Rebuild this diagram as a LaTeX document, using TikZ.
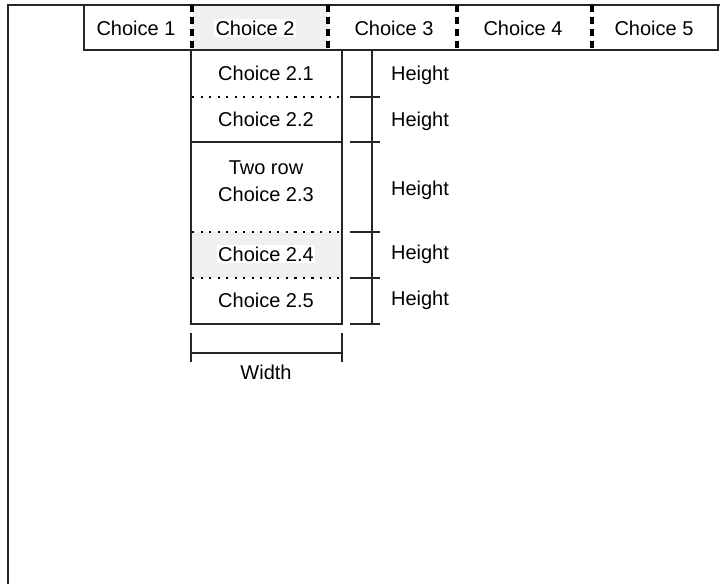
\documentclass[tikz,border=0pt]{standalone}
\usepackage{fontspec}
\setmainfont{Liberation Sans}
\usetikzlibrary{positioning}
\begin{document}
\begin{tikzpicture}[x=0.75pt,y=-0.75pt,font=\fontsize{15}{20}\selectfont,
  line/.style={draw=black!85,line width=0.8pt},
  sep/.style={line width=2.6pt,dash pattern=on 5.25pt off 3.75pt},
  dots/.style={line width=2pt,dash pattern=on 1.6pt off 4.8pt},
  hilite/.style={fill=black!6},
  lbl/.style={inner sep=1pt}]
\useasboundingbox (0,0) rectangle (720,584);
% window frame
\draw[line,line width=1pt] (8,600) -- (8,5) -- (730,5);
% menu bar
\fill[hilite] (192,5) rectangle (328,50);
\draw[line] (84,5) rectangle (718,50);
\foreach \x in {192,328,457,592}
  \draw[sep] (\x,5) -- (\x,50);
\foreach \x/\n in {136/1,394/3,523/4,654/5}
  \node[lbl] (m\n) at (\x,28) {Choice \n};
\node[lbl,fill=white] (m2) at (255,28) {Choice 2};
% submenu of Choice 2
\fill[hilite] (191,232) rectangle (342,278);
\draw[line] (191,50) rectangle (342,324);
\draw[line] (191,142) -- (342,142);
\foreach \y in {97,232,278}
  \draw[dots] (192,\y) -- (342,\y);
\node[lbl] (s1) at (266,73) {Choice 2.1};
\node[lbl] (s2) at (266,119.5) {Choice 2.2};
\node[lbl,align=center] (s3) at (266,181) {Two row\\Choice 2.3};
\node[lbl,fill=white] (s4) at (266,254) {Choice 2.4};
\node[lbl] (s5) at (266,300) {Choice 2.5};
% height
\coordinate (htop) at (372,50);
\coordinate (hbot) at (372,324);
\draw[line] (htop) -- (hbot);
\foreach \y in {97,142,232,278,324}
  \draw[line] (350,\y) -- (380,\y);
\foreach \y [count=\i] in {75.5,121,190,254,300}
  \node[lbl] (h\i) at (420,\y) {Height};
% width
\coordinate (wl) at (191,353);
\coordinate (wr) at (342,353);
\draw[line] (wl) -- (wr);
\draw[line] (191,333) -- (191,362) (342,333) -- (342,362);
\node[lbl] (w) at (266,372) {Width};
\end{tikzpicture}
\end{document}
